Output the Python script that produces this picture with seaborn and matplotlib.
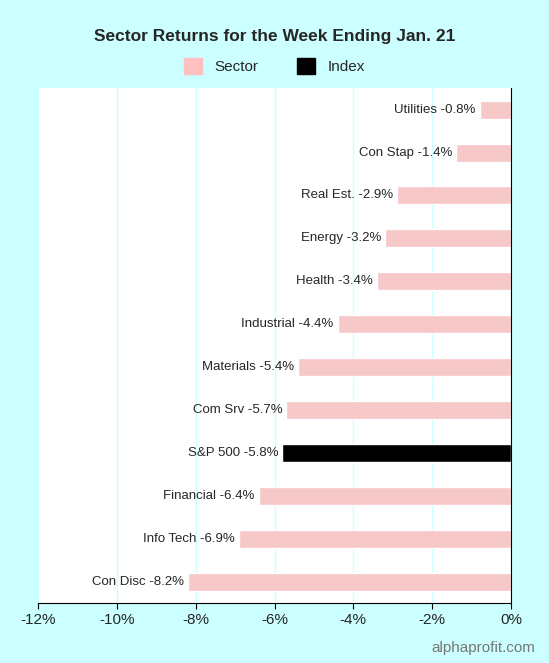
import matplotlib
matplotlib.use("Agg")
import matplotlib.pyplot as plt
import matplotlib.patches as mpatches
import seaborn as sns
import pandas as pd

sectors = ["Utilities", "Con Stap", "Real Est.", "Energy", "Health", "Industrial",
           "Materials", "Com Srv", "S&P 500", "Financial", "Info Tech", "Con Disc"]
returns = [-0.8, -1.4, -2.9, -3.2, -3.4, -4.4, -5.4, -5.7, -5.8, -6.4, -6.9, -8.2]
kinds = ["Sector"] * 8 + ["Index"] + ["Sector"] * 3

df = pd.DataFrame({"name": sectors, "ret": returns, "kind": kinds})

bg = "#ccffff"
sns.set_style("white")
plt.rcParams["font.family"] = ["Liberation Sans", "DejaVu Sans"]

fig = plt.figure(figsize=(5.49, 6.63), dpi=100, facecolor=bg)
ax = fig.add_axes([0.069, 0.0905, 0.862, 0.7765])
sns.barplot(data=df, y="name", x="ret", hue="kind", orient="h", dodge=False,
            palette={"Sector": "#ffc0c0", "Index": "#000000"}, width=0.42,
            legend=False, ax=ax, zorder=2)

for i, (n, v) in enumerate(zip(sectors, returns)):
    ax.text(v - 0.1, i, f"{n} {v:.1f}%", ha="right", va="center", fontsize=9.5, zorder=3)

ax.set_xlim(-12, 0)
ax.set_ylim(11.5, -0.5)
ax.set_xticks(range(-12, 1, 2))
ax.set_xticklabels([f"{t}%" for t in range(-12, 1, 2)], fontsize=11)
ax.set_yticks([])
ax.set_xlabel("")
ax.set_ylabel("")
ax.grid(axis="x", color=bg, linewidth=1, zorder=0)
for s in ["top", "left"]:
    ax.spines[s].set_visible(False)
ax.spines["bottom"].set_color("black")
ax.spines["right"].set_color("black")
ax.tick_params(axis="x", length=4, color="black", bottom=True)

fig.text(0.5, 0.945, "Sector Returns for the Week Ending Jan. 21", ha="center",
         va="center", fontsize=12.5, fontweight="bold")
handles = [mpatches.Patch(color="#ffc0c0", label="Sector"),
           mpatches.Patch(color="#000000", label="Index")]
fig.legend(handles=handles, loc="center", bbox_to_anchor=(0.5, 0.9), ncol=2,
           frameon=False, fontsize=11, handlelength=1.2, handleheight=1.2,
           columnspacing=2.5)
fig.text(0.975, 0.022, "alphaprofit.com", ha="right", va="center", fontsize=11,
         color="#777777")

fig.savefig("out.png", dpi=100, facecolor=bg)
